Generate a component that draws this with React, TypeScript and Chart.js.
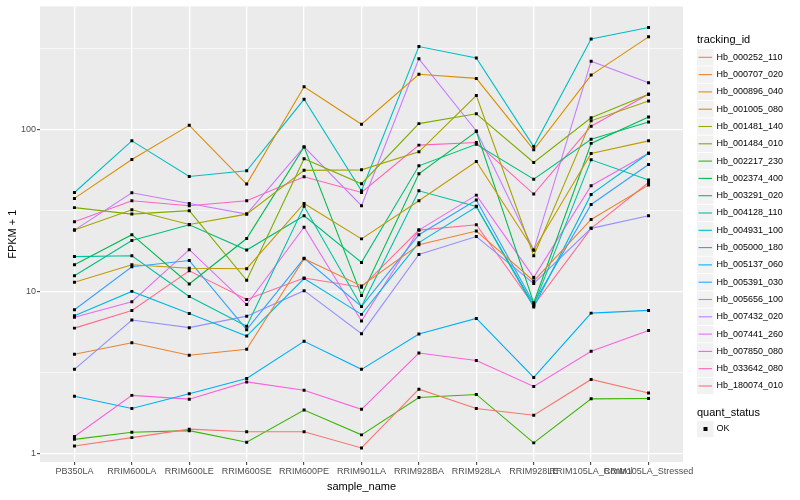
import { useEffect, useRef } from "react";
import { Chart, registerables } from "chart.js";

Chart.register(...registerables);

const FONT = "'Liberation Sans', Arial, sans-serif";

const sampleNames = [
  "PB350LA", "RRIM600LA", "RRIM600LE", "RRIM600SE", "RRIM600PE", "RRIM901LA",
  "RRIM928BA", "RRIM928LA", "RRIM928LE", "RRIM105LA_Control", "RRIM105LA_Stressed",
];

const trackingIds = [
  "Hb_000252_110", "Hb_000707_020", "Hb_000896_040", "Hb_001005_080", "Hb_001481_140",
  "Hb_001484_010", "Hb_002217_230", "Hb_002374_400", "Hb_003291_020", "Hb_004128_110",
  "Hb_004931_100", "Hb_005000_180", "Hb_005137_060", "Hb_005391_030", "Hb_005656_100",
  "Hb_007432_020", "Hb_007441_260", "Hb_007850_080", "Hb_033642_080", "Hb_180074_010",
];

// FPKM + 1 per sample, in sampleNames order
const hb000252_110 = [1.11, 1.25, 1.41, 1.36, 1.36, 1.08, 2.49, 1.89, 1.72, 2.86, 2.36];
const hb000707_020 = [4.09, 4.82, 4.03, 4.39, 15.9, 10.8, 19.4, 23.6, 11.6, 27.8, 45.3];
const hb000896_040 = [37.5, 65.2, 106, 46.0, 183.5, 107.7, 219, 206.6, 74.8, 216.6, 373];
const hb001005_080 = [11.4, 14.6, 13.9, 13.8, 34.9, 21.1, 36.3, 63.4, 18.0, 71, 85];
const hb001481_140 = [23.9, 31.9, 25.9, 30.0, 55.9, 56.3, 72.7, 162, 16.6, 113, 150];
const hb001484_010 = [32.9, 30.0, 31.5, 11.7, 66, 46.2, 108.6, 125, 62.5, 118, 165];
const hb002217_230 = [1.22, 1.35, 1.38, 1.17, 1.85, 1.30, 2.21, 2.31, 1.16, 2.17, 2.18];
const hb002374_400 = [14.6, 22.4, 11.1, 21.2, 78, 9.44, 53.2, 97, 8.5, 82, 119.4];
const hb003291_020 = [12.5, 20.6, 25.8, 18.0, 29.3, 15.1, 59.6, 81, 49.3, 87, 111];
const hb004128_110 = [16.4, 16.6, 9.3, 6.1, 33.5, 8.07, 41.8, 33.5, 8.2, 64.9, 48.7];
const hb004931_100 = [40.8, 85, 51.2, 55.5, 153.5, 41.8, 325, 276, 78.4, 362, 426];
const hb005000_180 = [7.08, 10.0, 7.31, 5.30, 12.0, 7.21, 20.0, 33.3, 8.0, 39.7, 71.3];
const hb005137_060 = [2.25, 1.89, 2.33, 2.90, 4.92, 3.30, 5.45, 6.81, 2.94, 7.34, 7.63];
const hb005391_030 = [7.70, 14.2, 15.5, 5.8, 16.0, 8.07, 22.4, 36.7, 8.46, 34.4, 60.7];
const hb005656_100 = [3.30, 6.65, 5.97, 7.03, 10.1, 5.48, 16.9, 21.8, 11.2, 24.5, 29.3];
const hb007432_020 = [23.9, 40.6, 34.9, 30.0, 78, 33.8, 273, 97.9, 18.0, 264, 194];
const hb007441_260 = [6.93, 8.63, 18.1, 8.3, 24.9, 6.56, 23.9, 39.3, 12.2, 44.9, 71.3];
const hb007850_080 = [1.27, 2.28, 2.16, 2.76, 2.45, 1.87, 4.16, 3.74, 2.59, 4.27, 5.74];
const hb033642_080 = [26.9, 36.3, 33.8, 36.3, 51, 40.8, 80, 83, 39.9, 104.6, 165];
const hb180074_010 = [5.93, 7.63, 13.4, 8.92, 12.1, 10.6, 23.9, 25.8, 8.2, 24.5, 47];

const seriesValues = [
  hb000252_110, hb000707_020, hb000896_040, hb001005_080, hb001481_140,
  hb001484_010, hb002217_230, hb002374_400, hb003291_020, hb004128_110,
  hb004931_100, hb005000_180, hb005137_060, hb005391_030, hb005656_100,
  hb007432_020, hb007441_260, hb007850_080, hb033642_080, hb180074_010,
];

const yMajorTicks = [1, 10, 100];
const yMinorTicks = [3.1623, 31.623, 316.23];
const quantStatus = ["OK"];

const palette = [
  "#F8766D", "#EA8331", "#D89000", "#C09B00", "#A3A500",
  "#7CAE00", "#39B600", "#00BB4E", "#00BF7D", "#00C1A3",
  "#00BFC4", "#00BAE0", "#00B0F6", "#35A2FF", "#9590FF",
  "#C77CFF", "#E76BF3", "#FA62DB", "#FF62BC", "#FF6C91",
];

const panelBg = {
  id: "panelBg",
  beforeDraw(chart: any) {
    const { ctx, chartArea } = chart;
    ctx.save();
    ctx.fillStyle = "#EBEBEB";
    ctx.fillRect(chartArea.left, chartArea.top, chartArea.right - chartArea.left, chartArea.bottom - chartArea.top);
    ctx.restore();
  },
};

const ggLegend = {
  id: "ggLegend",
  afterDraw(chart: any) {
    const ctx = chart.ctx;
    const x0 = 697;
    ctx.save();
    ctx.textBaseline = "middle";
    ctx.textAlign = "left";
    ctx.fillStyle = "#000";
    ctx.font = `11px ${FONT}`;
    ctx.fillText("tracking_id", x0, 40);
    const step = 17.3;
    chart.data.datasets.forEach((ds: any, i: number) => {
      const y = 57.3 + i * step;
      ctx.fillStyle = "#F2F2F2";
      ctx.fillRect(x0, y - 8.2, 16.5, 16.4);
      ctx.strokeStyle = ds.borderColor;
      ctx.lineWidth = 1.1;
      ctx.beginPath();
      ctx.moveTo(x0 + 1.5, y);
      ctx.lineTo(x0 + 15, y);
      ctx.stroke();
      ctx.fillStyle = "#000";
      ctx.font = `9px ${FONT}`;
      ctx.fillText(ds.label, 716.5, y);
    });
    ctx.font = `11px ${FONT}`;
    ctx.fillStyle = "#000";
    ctx.fillText("quant_status", x0, 412.7);
    quantStatus.forEach((s, i) => {
      const y = 429 + i * step;
      ctx.fillStyle = "#F2F2F2";
      ctx.fillRect(x0, y - 8.2, 16.5, 16.4);
      ctx.fillStyle = "#000";
      ctx.fillRect(x0 + 6.5, y - 2, 4, 4);
      ctx.font = `9px ${FONT}`;
      ctx.fillText(s, 716.5, y);
    });
    ctx.restore();
  },
};

export default function App() {
  const ref = useRef<HTMLCanvasElement | null>(null);
  useEffect(() => {
    if (!ref.current) return;
    Chart.defaults.font.family = FONT;
    const chart = new Chart(ref.current, {
      type: "line",
      data: {
        datasets: seriesValues.map((vals, i) => ({
          label: trackingIds[i],
          data: vals.map((v, j) => ({ x: j, y: v })),
          borderColor: palette[i],
          backgroundColor: "#000",
          borderWidth: 1.1,
          pointRadius: 2.1,
          pointStyle: "rect",
          pointBackgroundColor: "#000",
          pointBorderColor: "#000",
          pointBorderWidth: 0,
          tension: 0,
          fill: false,
        })),
      },
      options: {
        animation: false,
        responsive: false,
        devicePixelRatio: 1,
        layout: { padding: { top: 5, right: 117, left: 0, bottom: 0 } },
        plugins: { legend: { display: false }, tooltip: { enabled: false } },
        scales: {
          x: {
            type: "linear",
            min: -0.6,
            max: sampleNames.length - 0.4,
            afterBuildTicks: (s: any) => {
              s.ticks = sampleNames.map((_, i) => ({ value: i }));
            },
            afterFit: (s: any) => {
              s.height = 38;
            },
            ticks: {
              callback: (v: any) => sampleNames[v as number],
              autoSkip: false,
              maxRotation: 0,
              minRotation: 0,
              font: { size: 9, family: FONT },
              color: "#4D4D4D",
              padding: 1,
            },
            grid: { color: "#FFFFFF", lineWidth: 1.3, tickLength: 3, tickColor: "#333333", tickWidth: 1 },
            border: { display: false },
            title: { display: true, text: "sample_name", font: { size: 11, family: FONT }, color: "#000", padding: { top: 1, bottom: 6 } },
          },
          y: {
            type: "logarithmic",
            min: 0.884,
            max: 575,
            afterBuildTicks: (s: any) => {
              s.ticks = [...yMajorTicks, ...yMinorTicks].sort((a, b) => a - b).map((v) => ({ value: v }));
            },
            afterFit: (s: any) => {
              s.width = 40;
            },
            ticks: {
              callback: (v: any) => (yMajorTicks.includes(v as number) ? String(v) : ""),
              font: { size: 9, family: FONT },
              color: "#4D4D4D",
              padding: 1,
              autoSkip: false,
            },
            grid: {
              color: "#FFFFFF",
              lineWidth: (c: any) => (yMajorTicks.includes(c.tick?.value) ? 1.3 : 0.6),
              tickLength: 3,
              tickColor: (c: any) => (yMajorTicks.includes(c.tick?.value) ? "#333333" : "rgba(0,0,0,0)"),
              tickWidth: 1,
            },
            border: { display: false },
            title: { display: true, text: "FPKM + 1", font: { size: 11, family: FONT }, color: "#000", padding: { top: 6, bottom: 0 } },
          },
        },
      },
      plugins: [panelBg, ggLegend],
    } as any);
    return () => chart.destroy();
  }, []);
  return (
    <div style={{ position: "absolute", left: 0, top: 0, width: 800, height: 500, background: "#fff" }}>
      <canvas ref={ref} width={800} height={500} style={{ width: 800, height: 500 }} />
    </div>
  );
}
